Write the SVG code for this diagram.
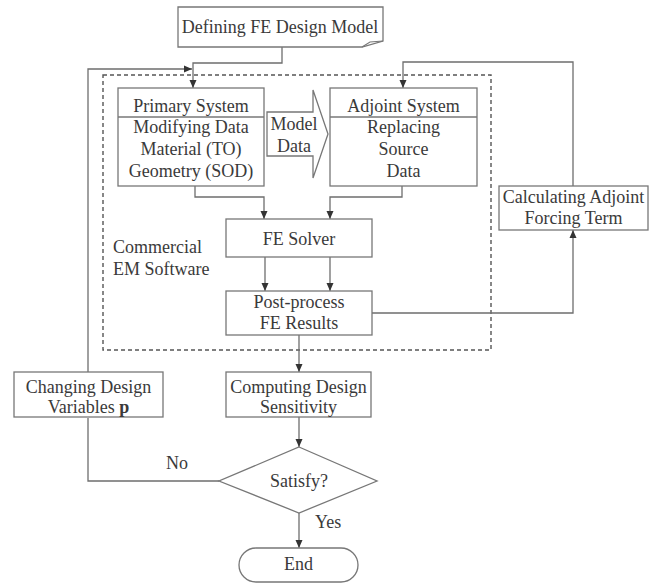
<svg xmlns="http://www.w3.org/2000/svg" width="664" height="585" viewBox="0 0 664 585">
<defs>
<marker id="ah" markerWidth="8" markerHeight="8" refX="8" refY="4" orient="auto" markerUnits="userSpaceOnUse">
<path d="M0,0.5 L8,4 L0,7.5 Z" fill="#333"/>
</marker>
<style>
.box{fill:#fff;stroke:#777;stroke-width:1.3}
.ln{fill:none;stroke:#6e6e6e;stroke-width:1.3}
.t{font-family:"Liberation Serif","Times New Roman",serif;font-size:18px;fill:#3a3a3a;text-anchor:middle}
.tl{font-family:"Liberation Serif","Times New Roman",serif;font-size:18px;fill:#3a3a3a}
</style>
</defs>
<rect width="664" height="585" fill="#fff"/>

<g id="software-region">
<rect x="103" y="75" width="388" height="275" fill="none" stroke="#555" stroke-width="1.4" stroke-dasharray="4,3"/>
<text class="tl" x="113" y="253">Commercial</text>
<text class="tl" x="113" y="275">EM Software</text>
</g>

<g id="connectors">
<path class="ln" d="M282,47 V63 H193 V88" marker-end="url(#ah)"/>
<path class="ln" d="M219,481 H88 V418"/>
<path class="ln" d="M88,372 V69 H192" marker-end="url(#ah)"/>
<path class="ln" d="M573,186 V62 H403 V88" marker-end="url(#ah)"/>
<path class="ln" d="M195,186 V197 H264 V219" marker-end="url(#ah)"/>
<path class="ln" d="M402,186 V197 H330 V219" marker-end="url(#ah)"/>
<path class="ln" d="M265,257 V291" marker-end="url(#ah)"/>
<path class="ln" d="M330,257 V291" marker-end="url(#ah)"/>
<path class="ln" d="M299,335 V372" marker-end="url(#ah)"/>
<path class="ln" d="M372,313 H573 V230" marker-end="url(#ah)"/>
<path class="ln" d="M299,417 V447" marker-end="url(#ah)"/>
<path class="ln" d="M299,513 V548" marker-end="url(#ah)"/>
<text class="tl" x="166" y="469">No</text>
<text class="tl" x="315" y="528">Yes</text>
</g>

<g id="define">
<path class="box" d="M178,7 H383 V41 L362,47 H178 Z"/>
<path fill="none" stroke="#777" stroke-width="1.1" d="M383,41 L370,42 L362,47"/>
<text class="t" x="280" y="33">Defining FE Design Model</text>
</g>

<g id="primary">
<rect class="box" x="118" y="88" width="146" height="98"/>
<line class="box" x1="118" y1="117" x2="264" y2="117"/>
<text class="t" x="191" y="112">Primary System</text>
<text class="t" x="191" y="133">Modifying Data</text>
<text class="t" x="191" y="155">Material (TO)</text>
<text class="t" x="191" y="177">Geometry (SOD)</text>
</g>

<g id="model-data">
<path class="box" d="M267,112 H313 V90 L328,134 L313,178 V156 H267 Z"/>
<text class="t" x="294" y="130">Model</text>
<text class="t" x="294" y="152">Data</text>
</g>

<g id="adjoint">
<rect class="box" x="330" y="88" width="147" height="98"/>
<line class="box" x1="330" y1="117" x2="477" y2="117"/>
<text class="t" x="403.5" y="112">Adjoint System</text>
<text class="t" x="403.5" y="133">Replacing</text>
<text class="t" x="403.5" y="155">Source</text>
<text class="t" x="403.5" y="177">Data</text>
</g>

<g id="calc-adjoint">
<rect class="box" x="499" y="186" width="149" height="44"/>
<text class="t" x="573.5" y="203">Calculating Adjoint</text>
<text class="t" x="573.5" y="224">Forcing Term</text>
</g>

<g id="fe-solver">
<rect class="box" x="226" y="219" width="146" height="38"/>
<text class="t" x="299" y="245">FE Solver</text>
</g>

<g id="post-process">
<rect class="box" x="226" y="291" width="146" height="44"/>
<text class="t" x="299" y="308">Post-process</text>
<text class="t" x="299" y="329">FE Results</text>
</g>

<g id="changing">
<rect class="box" x="14" y="372" width="149" height="45"/>
<text class="t" x="88.5" y="393">Changing Design</text>
<text class="t" x="88.5" y="413">Variables <tspan font-weight="bold">p</tspan></text>
</g>

<g id="computing">
<rect class="box" x="226" y="372" width="145" height="45"/>
<text class="t" x="298.5" y="393">Computing Design</text>
<text class="t" x="298.5" y="413">Sensitivity</text>
</g>

<g id="satisfy">
<polygon class="box" points="299,447 377,481 299,513 219,481"/>
<text class="t" x="299" y="487">Satisfy?</text>
</g>

<g id="end">
<rect class="box" x="239" y="548" width="119" height="34" rx="17"/>
<text class="t" x="298.5" y="570">End</text>
</g>
</svg>
